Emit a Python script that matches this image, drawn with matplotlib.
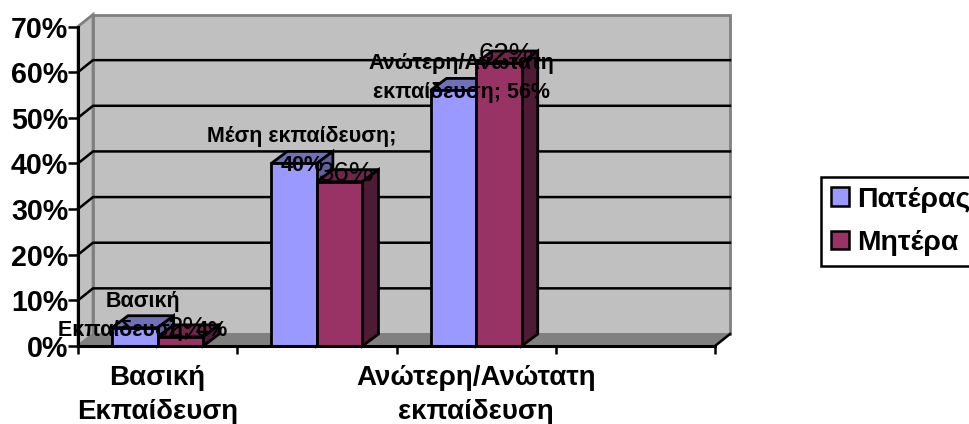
import matplotlib
matplotlib.use('Agg')
import matplotlib.pyplot as plt
from matplotlib.patches import Patch

# values
categories = ['Βασική\nΕκπαίδευση', '', 'Ανώτερη/Ανώτατη\nεκπαίδευση', '']
father = [0.04, 0.40, 0.56]
mother = [0.02, 0.36, 0.62]
father_labels = ['Βασική\nΕκπαίδευση; 4%', 'Μέση εκπαίδευση;\n40%', 'Ανώτερη/Ανώτατη\nεκπαίδευση; 56%']
mother_labels = ['2%', '36%', '62%']
y_ticks = [0, 0.1, 0.2, 0.3, 0.4, 0.5, 0.6, 0.7]
y_tick_labels = ['0%', '10%', '20%', '30%', '40%', '50%', '60%', '70%']
series_names = ['Πατέρας', 'Μητέρα']

plt.rcParams['font.family'] = ['Liberation Sans', 'DejaVu Sans']

W, H = 970, 424
fig = plt.figure(figsize=(W / 100, H / 100), dpi=100)
ax = fig.add_axes([78 / W, (H - 346) / H, 637 / W, 319.5 / H])
ax.set_xlim(0, 4)
ax.set_ylim(0, 0.7)

# pixel -> data for the 3d depth
px_x = 4 / 637
px_y = 0.7 / 319.5
wall_dx, wall_dy = 15 * px_x, 12 * px_y
bar_dx, bar_dy = 16 * px_x, 12 * px_y
bar_w = 45.6 * px_x

ax.patch.set_visible(False)
for s in ax.spines.values():
    s.set_visible(False)

# walls and floor
ax.fill([wall_dx, 4 + wall_dx, 4 + wall_dx, wall_dx],
        [wall_dy, wall_dy, 0.7 + wall_dy, 0.7 + wall_dy],
        fc='#C0C0C0', ec='#808080', lw=2, zorder=1, clip_on=False)
ax.fill([0, wall_dx, wall_dx, 0], [0, wall_dy, 0.7 + wall_dy, 0.7],
        fc='#C0C0C0', ec='#808080', lw=2, zorder=1, clip_on=False)
ax.fill([0, 4, 4 + wall_dx, wall_dx], [0, 0, wall_dy, wall_dy],
        fc='#808080', ec='#808080', lw=1, zorder=2, clip_on=False)
ax.plot([4, 4 + wall_dx], [0, wall_dy], color='black', lw=1.8, zorder=2, clip_on=False)

for t in y_ticks[1:-1]:
    ax.plot([0, wall_dx, 4 + wall_dx], [t, t + wall_dy, t + wall_dy],
            color='black', lw=1.8, zorder=2, clip_on=False)


def draw_bars(xs, values, front, top, side, z):
    ax.bar(xs, values, bar_w, color=front, edgecolor='black', linewidth=2, zorder=z + 1, clip_on=False)
    for x, v in zip(xs, values):
        l, r = x - bar_w / 2, x + bar_w / 2
        ax.fill([l, r, r + bar_dx, l + bar_dx], [v, v, v + bar_dy, v + bar_dy],
                fc=top, ec='black', lw=2, zorder=z, clip_on=False)
        ax.fill([r, r + bar_dx, r + bar_dx, r], [0, bar_dy, v + bar_dy, v],
                fc=side, ec='black', lw=2, zorder=z, clip_on=False)


centers = [i + 0.5 for i in range(3)]
x_father = [c - bar_w / 2 for c in centers]
x_mother = [c + bar_w / 2 for c in centers]
draw_bars(x_father, father, '#9999FF', '#7070B8', '#6060A0', 3)
draw_bars(x_mother, mother, '#993366', '#70264B', '#4F1A35', 5)

# front axis lines
ax.plot([0, 0], [0, 0.7], color='black', lw=2.2, zorder=8, clip_on=False)
ax.plot([0, 4], [0, 0], color='black', lw=2.2, zorder=8, clip_on=False)

ax.set_yticks(y_ticks, y_tick_labels, fontsize=20.6, fontweight='bold')
ax.tick_params(axis='y', length=7, width=1.8, pad=0)
ax.set_xticks(range(5), [''] * 5)
ax.tick_params(axis='x', which='major', length=6, width=1.8)
ax.set_xticks([i + 0.5 for i in range(4)], categories, minor=True, fontsize=20, fontweight='bold')
ax.tick_params(axis='x', which='minor', length=0, pad=14)
for lab in ax.get_xticklabels(minor=True):
    lab.set_linespacing(1.36)

for x, v, s in zip(x_father, father, father_labels):
    ax.annotate(s, (x, v), xytext=(8, 12), textcoords='offset pixels', ha='center', va='center',
                fontsize=15.5, fontweight='bold', linespacing=1.5, zorder=10, annotation_clip=False)
for x, v, s in zip(x_mother, mother, mother_labels):
    ax.annotate(s, (x, v), xytext=(7, 8), textcoords='offset pixels', ha='center', va='center',
                fontsize=20, zorder=10, annotation_clip=False)

handles = [Patch(fc='#9999FF', ec='black', lw=1.8), Patch(fc='#993366', ec='black', lw=1.8)]
leg = fig.legend(handles, series_names, loc='upper left', bbox_to_anchor=(821 / W, (H - 177) / H),
                 prop={'size': 20.4, 'weight': 'bold'}, fancybox=False, framealpha=1, edgecolor='black',
                 borderaxespad=0, borderpad=0.34, handlelength=0.66, handleheight=0.65,
                 handletextpad=0.28, labelspacing=0.61)
leg.get_frame().set_linewidth(1.8)

fig.savefig('out.png', dpi=100)
